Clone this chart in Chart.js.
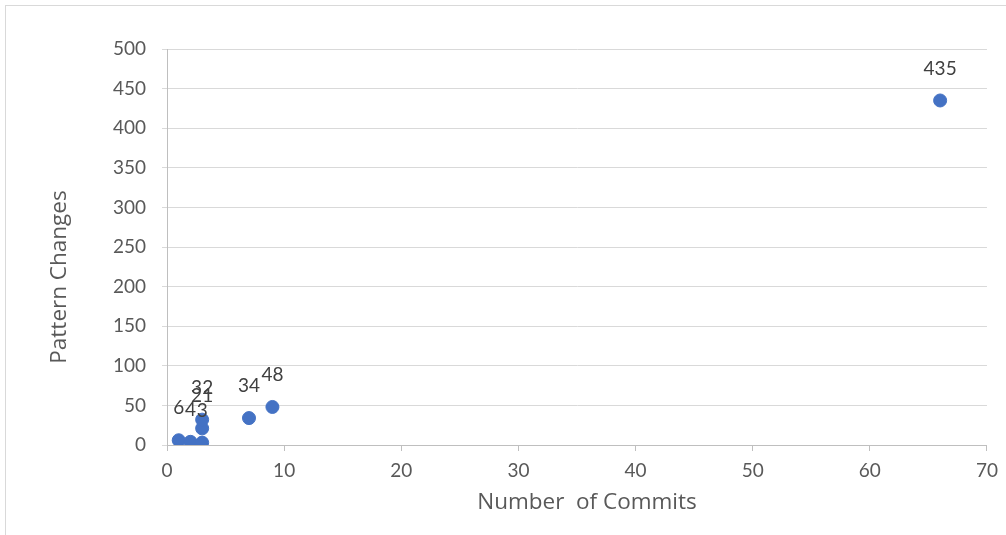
<!DOCTYPE html>
<html>
<head>
<meta charset="utf-8">
<script src="https://cdn.jsdelivr.net/npm/chart.js@4/dist/chart.umd.min.js"></script>
<style>
  html, body { margin: 0; padding: 0; background: #ffffff; }
  #wrap { position: relative; width: 1006px; height: 535px; }
</style>
</head>
<body>
<div id="wrap"><canvas id="chart" width="1006" height="535"></canvas></div>
<script>
// Commits per contributor vs. number of pattern changes
const commits = [1, 2, 3, 3, 3, 7, 9, 66];
const patternChanges = [6, 4, 3, 21, 32, 34, 48, 435];
const xTicks = [0, 10, 20, 30, 40, 50, 60, 70];
const yTicks = [0, 50, 100, 150, 200, 250, 300, 350, 400, 450, 500];
const xTitle = 'Number  of Commits';
const yTitle = 'Pattern Changes';

const FONT = 'Lato, "Open Sans", sans-serif';
const TITLE_FONT = '"Open Sans", Lato, sans-serif';
const TEXT = '#595959';

const points = commits.map((c, i) => ({ x: c, y: patternChanges[i] }));

// Outer frame of the chart object
const framePlugin = {
  id: 'frame',
  beforeDraw(chart) {
    const ctx = chart.ctx;
    ctx.save();
    ctx.fillStyle = '#ffffff';
    ctx.fillRect(0, 0, chart.width, chart.height);
    ctx.strokeStyle = '#d9d9d9';
    ctx.lineWidth = 1;
    ctx.strokeRect(5.5, 5.5, chart.width + 10, chart.height + 10);
    ctx.restore();
  }
};

// Axis titles, placed relative to the plot area
const axisTitles = {
  id: 'axisTitles',
  afterDraw(chart) {
    const ctx = chart.ctx;
    const a = chart.chartArea;
    ctx.save();
    ctx.font = '22.5px ' + TITLE_FONT;
    ctx.fillStyle = TEXT;
    ctx.textAlign = 'center';
    ctx.textBaseline = 'middle';
    ctx.fillText(xTitle, (a.left + a.right) / 2 + 10, a.bottom + 58);
    ctx.translate(60, (a.top + a.bottom) / 2 + 30);
    ctx.rotate(-Math.PI / 2);
    ctx.fillText(yTitle, 0, 0);
    ctx.restore();
  }
};

// Value labels above each marker
const valueLabels = {
  id: 'valueLabels',
  afterDatasetsDraw(chart) {
    const ctx = chart.ctx;
    ctx.save();
    ctx.font = '19px ' + FONT;
    ctx.fillStyle = '#404040';
    ctx.textAlign = 'center';
    ctx.textBaseline = 'middle';
    chart.getDatasetMeta(0).data.forEach((el, i) => {
      ctx.fillText(String(patternChanges[i]), el.x, el.y - 32);
    });
    ctx.restore();
  }
};

new Chart(document.getElementById('chart'), {
  type: 'scatter',
  data: {
    datasets: [{
      data: points,
      backgroundColor: '#4472c4',
      borderColor: '#4472c4',
      pointRadius: 6.5,
      pointHoverRadius: 6.5
    }]
  },
  options: {
    responsive: false,
    animation: false,
    events: [],
    layout: { padding: { top: 49, right: 16, bottom: 0, left: 0 } },
    plugins: { legend: { display: false }, tooltip: { enabled: false } },
    scales: {
      x: {
        type: 'linear',
        min: 0, max: 70,
        afterBuildTicks(scale) { scale.ticks = xTicks.map(v => ({ value: v })); },
        afterFit(scale) { scale.height = 90; },
        grid: { drawOnChartArea: false, drawTicks: true, tickLength: 6, color: '#bfbfbf' },
        border: { color: '#bfbfbf' },
        ticks: { color: TEXT, font: { family: FONT, size: 19 }, padding: 8, maxRotation: 0 },
        title: { display: false }
      },
      y: {
        type: 'linear',
        min: 0, max: 500,
        afterBuildTicks(scale) { scale.ticks = yTicks.map(v => ({ value: v })); },
        afterFit(scale) { scale.width = 167; },
        grid: { color: '#d9d9d9', drawTicks: true, tickLength: 5 },
        border: { color: '#bfbfbf' },
        ticks: { color: TEXT, font: { family: FONT, size: 19 }, padding: 16 },
        title: { display: false }
      }
    }
  },
  plugins: [framePlugin, valueLabels, axisTitles]
});
</script>
</body>
</html>
